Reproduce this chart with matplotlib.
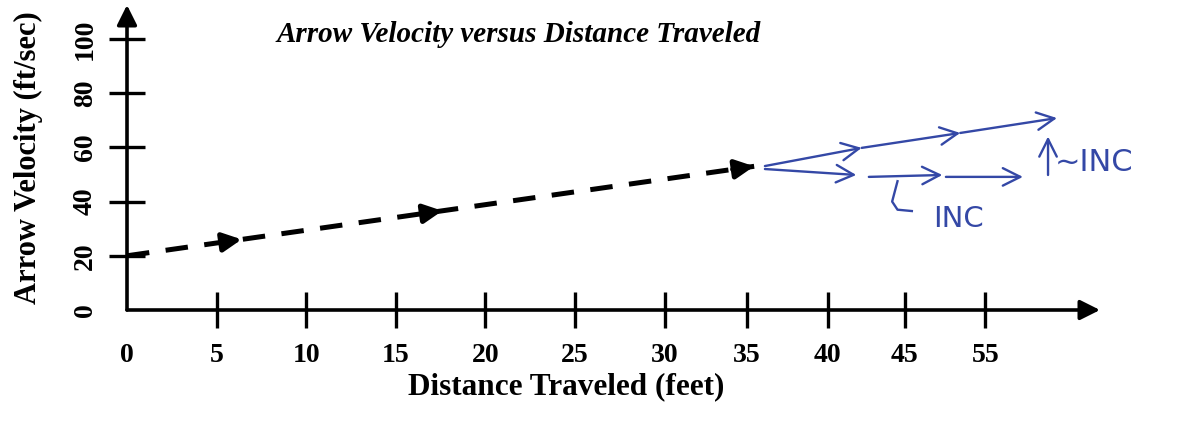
import numpy as np
import matplotlib
matplotlib.use("Agg")
import matplotlib.pyplot as plt

# ticks (positions as drawn in the sketch, labels as printed)
xtick_pos = [0, 5, 10, 15, 20, 25, 30, 34.6, 39.1, 43.4, 47.9]
xtick_labels = ["0", "5", "10", "15", "20", "25", "30", "35", "40", "45", "55"]
ytick_vals = [0, 20, 40, 60, 80, 100]

# dashed velocity line
line_x = [0, 35]
line_y = [20, 53]
line_arrow_x = [6.4, 17.6, 35]

# hand-drawn blue additions
upper_x = [35.6, 41.0, 46.5, 51.9]
upper_y = [53.1, 59.8, 65.3, 70.8]
lower_segs = [((35.6, 52.0), (40.7, 49.8)),
              ((41.4, 49.1), (45.5, 49.8)),
              ((45.7, 49.1), (50.0, 49.1))]
up_arrow = ((51.4, 49.8), (51.4, 64.0))
hook_x = [43.0, 42.7, 43.0, 43.8]
hook_y = [47.5, 40.0, 37.0, 36.5]

blue = "#3448a6"
serif = "Liberation Serif"

fig = plt.figure(figsize=(11.77, 4.21), dpi=100)
ax = fig.add_axes([127 / 1177, 111 / 421, 973 / 1177, 305 / 421])
ax.set_xlim(0, 54.3)
ax.set_ylim(0, 112.5)
for s in ax.spines.values():
    s.set_visible(False)

# axes with arrow tips
head = "-|>,head_length=0.6,head_width=0.3"
ax.annotate("", xy=(1, 0), xytext=(0, 0), xycoords="axes fraction",
            arrowprops=dict(arrowstyle=head, color="black", lw=2.6,
                            mutation_scale=20, shrinkA=0, shrinkB=0))
ax.annotate("", xy=(0, 1), xytext=(0, 0), xycoords="axes fraction",
            arrowprops=dict(arrowstyle=head, color="black", lw=2.6,
                            mutation_scale=20, shrinkA=0, shrinkB=0))

ax.set_xticks(xtick_pos)
ax.set_xticklabels(xtick_labels)
ax.set_yticks(ytick_vals)
ax.set_yticklabels([str(v) for v in ytick_vals], rotation=90, va="center")
ax.tick_params(direction="inout", length=26, width=2.4, color="black",
               labelsize=20, top=False, right=False)
ax.tick_params(axis="x", pad=11)
ax.tick_params(axis="y", pad=8)
for lab in ax.get_xticklabels() + ax.get_yticklabels():
    lab.set_fontfamily(serif)
    lab.set_fontweight("bold")
# no tick marks at the origin corner
ax.xaxis.get_major_ticks()[0].tick1line.set_visible(False)
ax.yaxis.get_major_ticks()[0].tick1line.set_visible(False)

# dashed line with arrowheads
ax.plot(line_x, line_y, color="black", lw=3.6, linestyle=(0, (4.5, 3.3)),
        solid_capstyle="butt", dash_capstyle="butt")
slope = (line_y[1] - line_y[0]) / (line_x[1] - line_x[0])
for ax_x in line_arrow_x:
    tip = (ax_x, line_y[0] + slope * ax_x)
    back = (ax_x - 1.2, line_y[0] + slope * (ax_x - 1.2))
    ax.annotate("", xy=tip, xytext=back,
                arrowprops=dict(arrowstyle="-|>,head_length=0.8,head_width=0.4",
                                color="black", lw=3.6, mutation_scale=14,
                                shrinkA=0, shrinkB=0))

# blue pen marks
pen = dict(arrowstyle="->,head_length=0.7,head_width=0.35", color=blue,
           lw=1.7, mutation_scale=18, shrinkA=0, shrinkB=0)
for i in range(len(upper_x) - 1):
    ax.annotate("", xy=(upper_x[i + 1], upper_y[i + 1]),
                xytext=(upper_x[i], upper_y[i]), arrowprops=pen)
for p, q in lower_segs:
    ax.annotate("", xy=q, xytext=p, arrowprops=pen)
ax.annotate("", xy=up_arrow[1], xytext=up_arrow[0], arrowprops=pen)
ax.plot(hook_x, hook_y, color=blue, lw=1.7)
ax.text(51.8, 54.5, "~INC", color=blue, fontsize=22, family="DejaVu Sans",
        ha="left", va="center")
ax.text(46.4, 33.5, "INC", color=blue, fontsize=21, family="DejaVu Sans",
        ha="center", va="center")

fig.text(519 / 1177, 1 - 35 / 421, "Arrow Velocity versus Distance Traveled",
         family=serif, fontsize=21, fontweight="bold", style="italic",
         ha="center", va="center")
fig.text(566 / 1177, 1 - 387 / 421, "Distance Traveled (feet)",
         family=serif, fontsize=22.5, fontweight="bold", ha="center", va="center")
fig.text(28 / 1177, 1 - 158 / 421, "Arrow Velocity (ft/sec)",
         family=serif, fontsize=22, fontweight="bold", rotation=90,
         ha="center", va="center")

fig.savefig("out.png", dpi=100)
